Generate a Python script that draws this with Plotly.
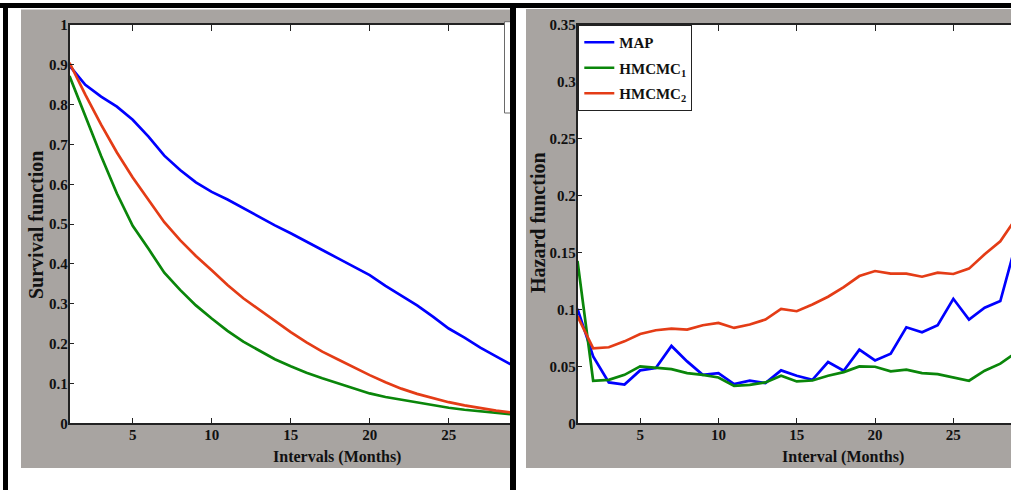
import plotly.graph_objects as go

W, H = 1011, 490

# ---- data -------------------------------------------------------------
months = list(range(1, 31))

# survival function estimates per month
surv_map = [0.898, 0.850, 0.820, 0.795, 0.762, 0.720, 0.672, 0.636, 0.605, 0.581,
            0.562, 0.540, 0.520, 0.497, 0.477, 0.457, 0.435, 0.414, 0.392, 0.372,
            0.345, 0.320, 0.296, 0.268, 0.238, 0.215, 0.190, 0.168, 0.147, 0.125]
surv_hmcmc1 = [0.872, 0.772, 0.671, 0.577, 0.496, 0.438, 0.378, 0.335, 0.296, 0.263,
               0.232, 0.205, 0.182, 0.161, 0.143, 0.127, 0.113, 0.100, 0.087, 0.075,
               0.066, 0.059, 0.053, 0.046, 0.039, 0.034, 0.030, 0.026, 0.022, 0.019]
surv_hmcmc2 = [0.905, 0.825, 0.750, 0.680, 0.617, 0.560, 0.505, 0.460, 0.420, 0.384,
               0.347, 0.314, 0.285, 0.257, 0.229, 0.203, 0.180, 0.160, 0.140, 0.121,
               0.103, 0.087, 0.074, 0.063, 0.053, 0.045, 0.038, 0.032, 0.027, 0.023]

# hazard function estimates per month
haz_map = [0.1006, 0.0588, 0.0359, 0.0341, 0.0465, 0.0485, 0.0680, 0.0544, 0.0426, 0.0440,
           0.0344, 0.0374, 0.0353, 0.0465, 0.0418, 0.0382, 0.0538, 0.0462, 0.0647, 0.0553,
           0.0612, 0.0844, 0.0800, 0.0862, 0.1094, 0.0912, 0.1015, 0.1074, 0.1580, 0.1700]
haz_hmcmc1 = [0.1426, 0.0374, 0.0382, 0.0426, 0.0500, 0.0491, 0.0476, 0.0441, 0.0426, 0.0403,
              0.0329, 0.0338, 0.0359, 0.0418, 0.0368, 0.0376, 0.0418, 0.0450, 0.0500, 0.0497,
              0.0456, 0.0471, 0.0441, 0.0432, 0.0403, 0.0374, 0.0462, 0.0524, 0.0620, 0.0700]
haz_hmcmc2 = [0.0941, 0.0659, 0.0668, 0.0720, 0.0785, 0.0818, 0.0832, 0.0824, 0.0862, 0.0882,
              0.0838, 0.0868, 0.0912, 0.1006, 0.0985, 0.1044, 0.1112, 0.1197, 0.1294, 0.1338,
              0.1315, 0.1315, 0.1288, 0.1324, 0.1312, 0.1359, 0.1485, 0.1600, 0.1800, 0.2000]

series_names = ["MAP", "HMCMC<sub>1</sub>", "HMCMC<sub>2</sub>"]
series_colors = ["#0000ff", "#0a860a", "#e43c16"]

x_ticks = [5, 10, 15, 20, 25]
surv_ticks = [0, 0.1, 0.2, 0.3, 0.4, 0.5, 0.6, 0.7, 0.8, 0.9, 1]
surv_tick_text = ["0", "0.1", "0.2", "0.3", "0.4", "0.5", "0.6", "0.7", "0.8", "0.9", "1"]
haz_ticks = [0, 0.05, 0.1, 0.15, 0.2, 0.25, 0.3, 0.35]
haz_tick_text = ["0", "0.05", "0.1", "0.15", "0.2", "0.25", "0.3", "0.35"]

# ---- layout helpers (pixel -> paper fraction) -------------------------
def fx(p):
    return p / W


def fy(p):
    return 1 - p / H


FONT = "Liberation Serif"
GRAY = "#a8a4a1"
AXIS = "#222222"

# plot-area boxes in pixels
L_X0, L_X1 = 69.5, 510.0
R_X0, R_X1 = 577.5, 1011.0
P_Y0, P_Y1 = 25.0, 423.3
L_PX_PER_MONTH = 15.8
R_PX_PER_MONTH = 15.66

fig = go.Figure()

for vals, name, col in zip([surv_map, surv_hmcmc1, surv_hmcmc2], series_names, series_colors):
    fig.add_trace(go.Scatter(x=months, y=vals, mode="lines", name=name,
                             line=dict(color=col, width=2.7), showlegend=False,
                             xaxis="x", yaxis="y"))

for i, (vals, name, col) in enumerate(zip([haz_map, haz_hmcmc1, haz_hmcmc2],
                                          series_names, series_colors)):
    fig.add_trace(go.Scatter(x=months, y=vals, mode="lines", name=name,
                             legendgroup=f"g{i}",
                             line=dict(color=col, width=2.7), showlegend=True,
                             xaxis="x2", yaxis="y2"))

tickfont = dict(family=FONT, size=15, color="#111111", weight="bold")
common_x = dict(tickvals=x_ticks, ticks="inside", ticklen=6, tickwidth=1, tickcolor=AXIS,
                showline=True, linecolor=AXIS, linewidth=1.5, mirror="ticks",
                showgrid=False, zeroline=False, tickfont=tickfont, ticklabelstandoff=-3)
common_y = dict(ticks="inside", ticklen=5, tickwidth=1, tickcolor=AXIS,
                showline=True, linecolor=AXIS, linewidth=1.5, mirror=False,
                showgrid=False, zeroline=False, tickfont=tickfont, ticklabelstandoff=-3)

fig.update_layout(
    width=W, height=H,
    margin=dict(l=0, r=0, t=0, b=0, autoexpand=False),
    paper_bgcolor="white", plot_bgcolor="white",
    xaxis=dict(domain=[fx(L_X0), fx(L_X1)],
               range=[1, 1 + (L_X1 - L_X0) / L_PX_PER_MONTH], anchor="y", **common_x),
    yaxis=dict(domain=[fy(P_Y1), fy(P_Y0)], range=[0, 1], anchor="x",
               tickvals=surv_ticks, ticktext=surv_tick_text, **common_y),
    xaxis2=dict(domain=[fx(R_X0), fx(R_X1)],
                range=[1, 1 + (R_X1 - R_X0) / R_PX_PER_MONTH], anchor="y2", **common_x),
    yaxis2=dict(domain=[fy(P_Y1), fy(P_Y0)], range=[0, 0.35], anchor="x2",
                tickvals=haz_ticks, ticktext=haz_tick_text, **common_y),
    legend=dict(x=fx(578.3), y=fy(25), xanchor="left", yanchor="top",
                bgcolor="white", bordercolor=AXIS, borderwidth=1,
                font=dict(family=FONT, size=15, color="#111111", weight="bold"),
                itemwidth=30, tracegroupgap=3),
    showlegend=True,
)


def rect(x0, y0, x1, y1, fill, layer="below", line_col=None, line_w=0):
    return dict(type="rect", xref="paper", yref="paper",
                x0=fx(x0), x1=fx(x1), y0=fy(y1), y1=fy(y0),
                fillcolor=fill, layer=layer,
                line=dict(color=line_col or fill, width=line_w))


shapes = [
    # grey figure panels
    rect(21, 9.5, 510, 468, GRAY),
    rect(526, 9, 1011, 468, GRAY),
    # white axes backgrounds
    rect(L_X0, P_Y0, L_X1, P_Y1, "white"),
    rect(R_X0, P_Y0, R_X1, P_Y1, "white"),
    # edge of the left panel's legend box
    rect(504.5, 21.7, 512, 113, "white", layer="above", line_col="#6a6a6a", line_w=1),
    # black frame
    rect(0, 3, 1011, 8, "black", layer="above"),
    rect(3, 3, 8, 490, "black", layer="above"),
    rect(510, 3, 516, 490, "black", layer="above"),
]
fig.update_layout(shapes=shapes)

xtitle_font = dict(family=FONT, size=16, color="#111111", weight="bold")
ytitle_font = dict(family=FONT, size=20, color="#111111", weight="bold")
annotations = [
    dict(text="Intervals (Months)", x=fx(337), y=fy(457), xref="paper", yref="paper",
         showarrow=False, xanchor="center", yanchor="middle", font=xtitle_font),
    dict(text="Interval (Months)", x=fx(843), y=fy(457), xref="paper", yref="paper",
         showarrow=False, xanchor="center", yanchor="middle", font=xtitle_font),
    dict(text="Survival function", x=fx(36), y=fy(225), xref="paper", yref="paper",
         showarrow=False, xanchor="center", yanchor="middle", textangle=-90, font=ytitle_font),
    dict(text="Hazard function", x=fx(538), y=fy(223), xref="paper", yref="paper",
         showarrow=False, xanchor="center", yanchor="middle", textangle=-90, font=ytitle_font),
]
fig.update_layout(annotations=annotations)

fig.write_html("out.html")
